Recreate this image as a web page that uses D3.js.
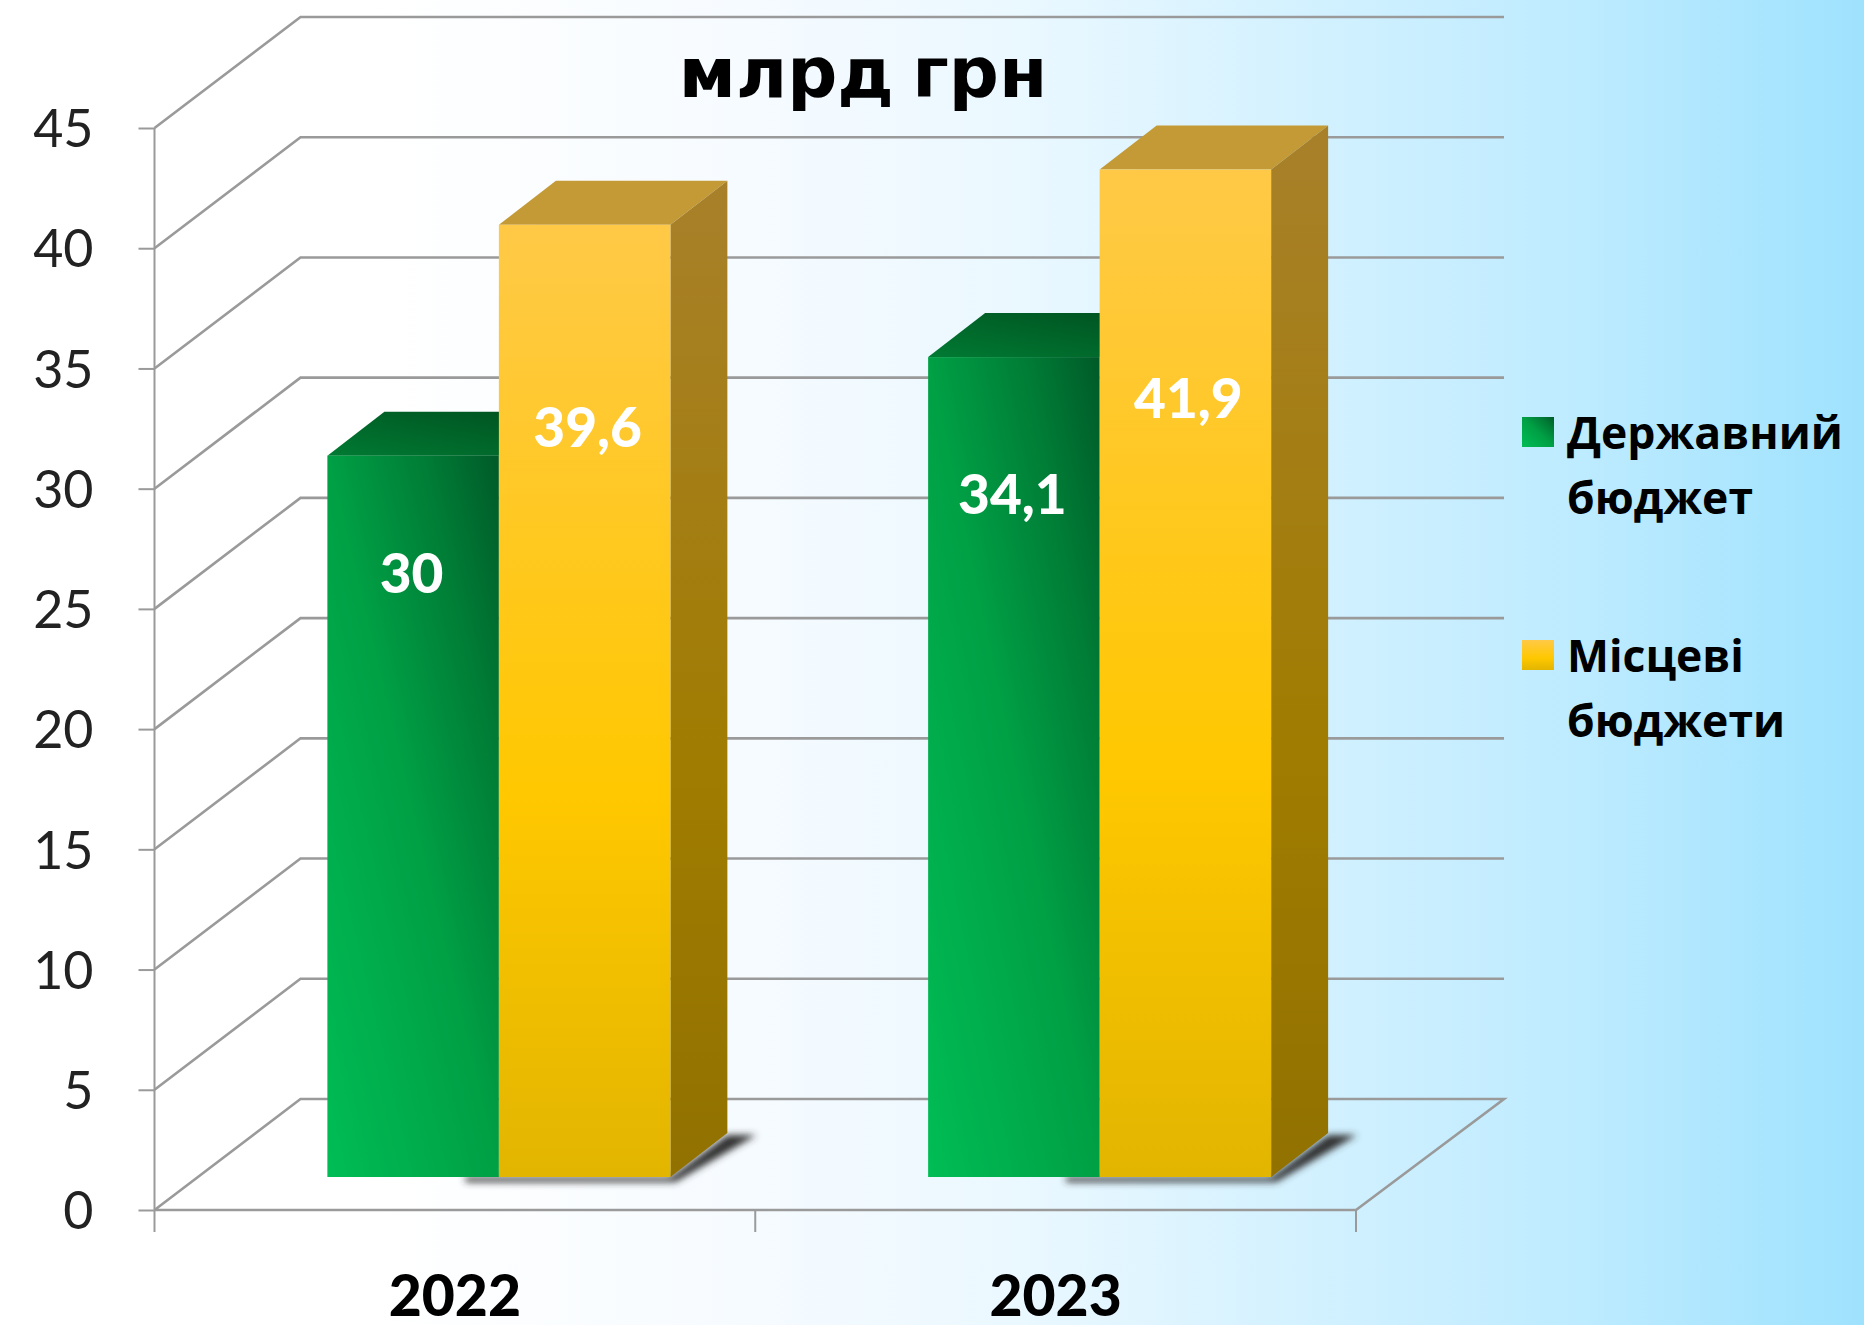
<!DOCTYPE html>
<html><head><meta charset="utf-8">
<script src="https://cdn.jsdelivr.net/npm/d3@7"></script>
<style>html,body{margin:0;padding:0;overflow:hidden;background:#fff}svg{display:block}</style>
</head><body><script>
const categories = ["2022","2023"];
const seriesNames = ["Державний бюджет","Місцеві бюджети"];
const stateBudget = [30,34.1];
const localBudgets = [39.6,41.9];
const stateLabelAt = [25.1,28.4];
const localLabelAt = [31.2,32.4];
const valueTicks = [0,5,10,15,20,25,30,35,40,45];
const titleText = "млрд грн";

const W=1864,H=1325;
const svg=d3.select("body").append("svg").attr("width",W).attr("height",H);
const defs=svg.append("defs");
function grad(id,a,stops){const g=defs.append("linearGradient").attr("id",id)
  .attr("x1",a[0]).attr("y1",a[1]).attr("x2",a[2]).attr("y2",a[3]);
  stops.forEach(s=>g.append("stop").attr("offset",s[0]).attr("stop-color",s[1]));}
grad("bg",[0,0,1,0],[[0,"#ffffff"],[.2,"#ffffff"],[.4,"#f6fbff"],[.55,"#eaf8ff"],[.68,"#d6f2ff"],[.85,"#bdebff"],[1,"#9fe2fe"]]);
grad("gf",[0,1,1,0],[[0,"#00bd55"],[.5,"#00a045"],[.8,"#007a35"],[1,"#005a28"]]);
grad("gt",[0,1,1,0],[[0,"#007a33"],[1,"#00501f"]]);
grad("yf",[0,0,0,1],[[0,"#ffc947"],[.6,"#ffc800"],[1,"#e2b500"]]);
grad("ys",[0,0,0,1],[[0,"#a8802a"],[.6,"#a07c00"],[1,"#917100"]]);
grad("yt",[0,0,1,0],[[0,"#c39a36"],[1,"#c39a36"]]);
grad("gs",[0,0,0,1],[[0,"#00501f"],[1,"#004a1c"]]);
const blur=defs.append("filter").attr("id","sh").attr("x","-20%").attr("y","-30%").attr("width","140%").attr("height","160%");
blur.append("feGaussianBlur").attr("stdDeviation",3.5);

svg.append("rect").attr("width",W).attr("height",H).attr("fill","url(#bg)");

const y=d3.scaleLinear().domain([0,45]).range([1210,128]);
const x=d3.scaleBand().domain(categories).range([154.5,1356]);
const DX=146,DY=111,wallEnd=x.range()[1]+DX+2;
const gridC="#9a9a9a";

const grid=svg.append("g").attr("fill","none").attr("stroke",gridC);
valueTicks.forEach(v=>{
  if(v===0){
    grid.append("path").attr("stroke-width",2.6).attr("d",`M${x.range()[0]},${y(0)}L${x.range()[1]},${y(0)}L${wallEnd},${y(0)-DY}L${x.range()[0]+DX},${y(0)-DY}L${x.range()[0]},${y(0)}`);
  } else {
    grid.append("path").attr("stroke-width",2.6).attr("d",`M${x.range()[0]},${y(v)}L${x.range()[0]+DX},${y(v)-DY}L${wallEnd},${y(v)-DY}`);
  }
});

// axes
const yAxis=d3.axisLeft(y).tickValues(valueTicks).tickSize(16);
const yg=svg.append("g").attr("transform",`translate(${x.range()[0]},0)`).call(yAxis);
yg.selectAll("path,line").attr("stroke",gridC).attr("stroke-width",2);
yg.select(".domain").attr("d",`M0,${y(45)}V${y(0)}`);
yg.selectAll("text").attr("x",-61).attr("dy","0.36em").attr("font-family","'Lato'").attr("font-size",52).attr("fill","#222");

const xAxis=d3.axisBottom(x).tickSize(0).tickPadding(0);
const xg=svg.append("g").attr("transform",`translate(0,${y(0)})`).call(xAxis);
xg.select(".domain").remove();
xg.selectAll("text").attr("y",84).attr("dy",0).attr("dominant-baseline","central")
  .attr("font-family","'Lato'").attr("font-weight",900).attr("font-size",57).attr("fill","#000");
const xTickAt=[x.range()[0],x(categories[1]),x.range()[1]];
svg.append("g").selectAll("line").data(xTickAt).join("line")
  .attr("x1",d=>d).attr("x2",d=>d).attr("y1",y(0)).attr("y2",y(0)+22).attr("stroke",gridC).attr("stroke-width",2);

// bars
const inner=d3.scaleBand().domain(seriesNames).range([-171.5,171.5]);
const off=x.bandwidth()/2+44, base=y(0)-33, dx=57, dy=44;
const vals=[stateBudget,localBudgets], fills=[["gf","gs","gt"],["yf","ys","yt"]];
categories.forEach((c,i)=>{
  const right=x(c)+off+inner(seriesNames[1])+inner.bandwidth();
  svg.append("path").attr("filter","url(#sh)").attr("fill","#333")
    .attr("d",`M${right-205},${base+5}L${right+5},${base+5}L${right+dx+29},${base-dy+2}L${right+dx},${base-dy+2}L${right},${base}L${right-205},${base}Z`);
});
categories.forEach((c,i)=>{
  seriesNames.forEach((s,j)=>{
    const x0=x(c)+off+inner(s), w=inner.bandwidth(), t=y(vals[j][i])-33;
    const g=svg.append("g");
    g.append("path").attr("fill",`url(#${fills[j][2]})`).attr("d",`M${x0},${t}L${x0+dx},${t-dy}L${x0+w+dx},${t-dy}L${x0+w},${t}Z`);
    g.append("path").attr("fill",`url(#${fills[j][1]})`).attr("d",`M${x0+w},${t}L${x0+w+dx},${t-dy}L${x0+w+dx},${base-dy}L${x0+w},${base}Z`);
    g.append("rect").attr("x",x0).attr("y",t).attr("width",w).attr("height",base-t).attr("fill",`url(#${fills[j][0]})`);
  });
});
// data labels
const labelAt=[stateLabelAt,localLabelAt], fmt=v=>String(v).replace(".",",");
categories.forEach((c,i)=>seriesNames.forEach((s,j)=>{
  svg.append("text").attr("x",x(c)+off+inner(s)+inner.bandwidth()/2+(j?3:-1.5)).attr("y",y(labelAt[j][i])-33)
    .attr("dy","0.36em").attr("text-anchor","middle").attr("font-family","'Lato'").attr("font-weight",900)
    .attr("font-size",55).attr("fill","#fff").text(fmt(vals[j][i]));
}));

// title
svg.append("text").attr("x",863).attr("y",76).attr("dy","0.3em").attr("text-anchor","middle")
  .attr("font-family","'DejaVu Sans'").attr("font-weight",700).attr("font-size",70).attr("word-spacing",-6).attr("fill","#000").text(titleText);

// legend
const legendSw=["gf","yf"];
const legY=d3.scalePoint().domain(seriesNames).range([433,656]);
seriesNames.forEach((s,j)=>{
  const g=svg.append("g").attr("transform",`translate(0,${legY(s)})`);
  g.append("rect").attr("x",1522).attr("y",-16).attr("width",32).attr("height",30).attr("fill",`url(#${legendSw[j]})`);
  s.split(" ").forEach((t,k)=>g.append("text").attr("x",1567).attr("y",k*65).attr("dy","0.36em")
    .attr("font-family","'Open Sans'").attr("font-weight",700).attr("font-size",44.5).attr("fill","#000").text(t));
});
</script></body></html>
